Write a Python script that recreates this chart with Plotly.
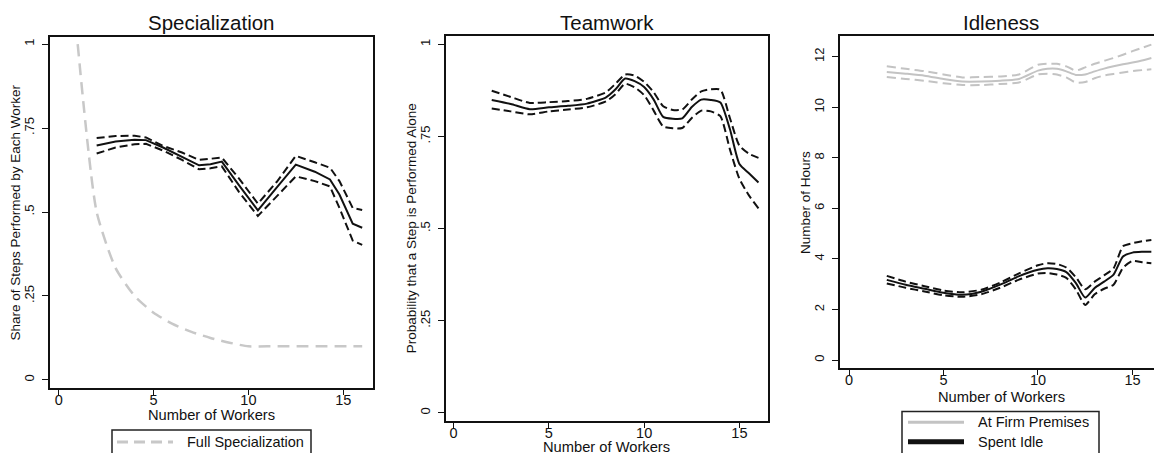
import plotly.graph_objects as go

W, H = 1154, 453
FONT = "Liberation Sans, Arial, sans-serif"

# ---------------- data ----------------
# Panel 1: Specialization
spec_x = [2, 3, 4, 4.6, 5.5, 6.5, 7.4, 8, 8.6, 9.5, 10.5, 11.5, 12.5, 13.5, 14.3, 14.8, 15.5, 16]
spec_mean = [.698, .710, .715, .714, .692, .665, .639, .642, .650, .580, .505, .573, .641, .620, .597, .552, .465, .453]
spec_hi = [.720, .726, .727, .722, .697, .677, .655, .658, .662, .600, .525, .590, .667, .648, .632, .592, .512, .506]
spec_lo = [.674, .692, .702, .703, .683, .655, .627, .630, .636, .560, .488, .548, .606, .592, .576, .512, .415, .402]
full_x = [1, 2, 3, 4, 5, 6, 7, 8, 9, 10, 11, 12, 13, 14, 15, 16]
full_y = [1, .5, .333, .25, .2, .167, .143, .125, .111, .1, .1, .1, .1, .1, .1, .1]

# Panel 2: Teamwork
team_x = [2, 3, 4, 5, 6, 7, 8, 8.5, 9, 9.5, 10, 10.5, 11, 11.5, 12, 12.5, 13, 13.5, 14, 14.5, 15, 15.5, 16]
team_mean = [.849, .838, .824, .829, .833, .839, .856, .878, .907, .900, .884, .850, .803, .798, .799, .830, .850, .849, .842, .770, .675, .650, .625]
team_hi = [.874, .857, .841, .843, .846, .852, .870, .893, .918, .915, .898, .870, .832, .822, .823, .850, .872, .878, .877, .800, .725, .703, .692]
team_lo = [.826, .818, .810, .818, .823, .829, .845, .865, .893, .883, .862, .820, .777, .772, .773, .800, .820, .818, .805, .715, .635, .590, .555]

# Panel 3: Idleness
idle_x = [2, 3, 4, 5, 6, 7, 8, 9, 10, 10.5, 11, 11.5, 12, 12.5, 13, 13.5, 14, 14.5, 15, 15.5, 16]
prem_mean = [11.40, 11.33, 11.25, 11.12, 11.02, 11.02, 11.05, 11.12, 11.45, 11.52, 11.52, 11.42, 11.28, 11.30, 11.42, 11.53, 11.62, 11.70, 11.77, 11.85, 11.95]
prem_hi = [11.62, 11.52, 11.43, 11.30, 11.18, 11.20, 11.22, 11.30, 11.68, 11.72, 11.72, 11.62, 11.45, 11.58, 11.72, 11.84, 11.95, 12.08, 12.22, 12.35, 12.48]
prem_lo = [11.20, 11.12, 11.05, 10.95, 10.88, 10.88, 10.92, 10.98, 11.30, 11.33, 11.30, 11.18, 10.98, 11.00, 11.15, 11.26, 11.32, 11.38, 11.43, 11.47, 11.50]
idle_mean = [3.17, 2.98, 2.82, 2.66, 2.58, 2.70, 2.98, 3.32, 3.57, 3.63, 3.60, 3.48, 3.05, 2.47, 2.85, 3.10, 3.38, 4.10, 4.25, 4.28, 4.28]
idle_hi = [3.33, 3.10, 2.92, 2.75, 2.68, 2.78, 3.06, 3.43, 3.75, 3.83, 3.80, 3.66, 3.28, 2.80, 3.10, 3.35, 3.63, 4.50, 4.62, 4.70, 4.75]
idle_lo = [3.03, 2.86, 2.71, 2.56, 2.50, 2.60, 2.86, 3.18, 3.42, 3.44, 3.38, 3.25, 2.80, 2.18, 2.60, 2.82, 2.98, 3.65, 3.92, 3.87, 3.83]

x_ticks = [0, 5, 10, 15]
share_ticks = [0, .25, .5, .75, 1]
share_labels = ["0", ".25", ".5", ".75", "1"]
hour_ticks = [0, 2, 4, 6, 8, 10, 12]

titles = ["Specialization", "Teamwork", "Idleness"]
ytitles = ["Share of Steps Performed by Each Worker",
           "Probability that a Step is Performed Alone",
           "Number of Hours"]
xtitle = "Number of Workers"
legend1 = ["Full Specialization"]
legend3 = ["At Firm Premises", "Spent Idle"]

# ---------------- figure ----------------
BLACK = "#111111"
GRAY = "#c3c3c3"
GRAY2 = "#c8c8c8"
CI_DASH = "8px,4px"

fig = go.Figure()


def line(x, y, ax, color, width, dash=None, shape="linear"):
    fig.add_trace(go.Scatter(
        x=x, y=y, mode="lines", xaxis="x" + ax, yaxis="y" + ax,
        line=dict(color=color, width=width, dash=dash, shape=shape, smoothing=0.6),
        showlegend=False, hoverinfo="skip"))


# panel 1
line(full_x, full_y, "", GRAY2, 2.5, "12px,7px", "spline")
line(spec_x, spec_hi, "", BLACK, 2, CI_DASH)
line(spec_x, spec_lo, "", BLACK, 2, CI_DASH)
line(spec_x, spec_mean, "", BLACK, 2)
# panel 2
line(team_x, team_hi, "2", BLACK, 2, CI_DASH, "spline")
line(team_x, team_lo, "2", BLACK, 2, CI_DASH, "spline")
line(team_x, team_mean, "2", BLACK, 2, None, "spline")
# panel 3
line(idle_x, prem_hi, "3", GRAY, 2, "9px,5px", "spline")
line(idle_x, prem_lo, "3", GRAY, 2, "9px,5px", "spline")
line(idle_x, prem_mean, "3", GRAY, 2, None, "spline")
line(idle_x, idle_hi, "3", BLACK, 2, CI_DASH, "spline")
line(idle_x, idle_lo, "3", BLACK, 2, CI_DASH, "spline")
line(idle_x, idle_mean, "3", BLACK, 2, None, "spline")


def px(v):
    return v / W


def py(v):
    return 1 - v / H


def xaxis(left, right, rng, mirror=True):
    return dict(domain=[px(left), px(right)], range=rng, tickvals=x_ticks,
                ticks="outside", ticklen=5, tickwidth=1, tickcolor=BLACK,
                showline=True, linecolor=BLACK, linewidth=1.5, mirror=mirror,
                showgrid=False, zeroline=False, ticklabelstandoff=-7,
                tickfont=dict(family=FONT, size=14.5, color=BLACK))


def yaxis(top, bottom, rng, tv, tt, anchor, mirror=True):
    return dict(domain=[py(bottom), py(top)], range=rng, tickvals=tv, ticktext=tt,
                ticks="outside", ticklen=6, tickwidth=1, tickcolor=BLACK, tickangle=-90,
                showline=True, linecolor=BLACK, linewidth=1.5, mirror=mirror,
                showgrid=False, zeroline=False, anchor=anchor, ticklabelstandoff=3,
                tickfont=dict(family=FONT, size=13, color=BLACK))


hour_labels = [str(t) for t in hour_ticks]

layout = dict(
    width=W, height=H, margin=dict(l=0, r=0, t=0, b=0, autoexpand=False),
    paper_bgcolor="white", plot_bgcolor="white", showlegend=False,
    xaxis=dict(xaxis(50, 373, [-0.46, 16.57]), anchor="y"),
    yaxis=yaxis(37, 388, [-0.024, 1.021], share_ticks, share_labels, "x"),
    xaxis2=dict(xaxis(446, 768, [-0.40, 16.50]), anchor="y2"),
    yaxis2=yaxis(36, 421, [-0.022, 1.0225], share_ticks, share_labels, "x2"),
    xaxis3=dict(xaxis(840, 1154, [-0.476, 16.14]), anchor="y3"),
    yaxis3=yaxis(36, 368, [-0.316, 12.82], hour_ticks, hour_labels, "x3", mirror=False),
)
fig.update_layout(**layout)

# panel titles
for t, cx in zip(titles, [211.5, 606.7, 1001]):
    fig.add_annotation(text=t, x=px(cx), y=py(22), xref="paper", yref="paper",
                       showarrow=False, xanchor="center", yanchor="middle",
                       font=dict(family=FONT, size=20.5, color=BLACK))

# x axis titles
for cx, cy in [(211.5, 414.5), (606.7, 447), (1001, 396.5)]:
    fig.add_annotation(text=xtitle, x=px(cx), y=py(cy), xref="paper", yref="paper",
                       showarrow=False, xanchor="center", yanchor="middle",
                       font=dict(family=FONT, size=14.7, color=BLACK))

# y axis titles
for t, cx, cy in zip(ytitles, [15, 411.7, 805], [212.5, 228.5, 203]):
    fig.add_annotation(text=t, x=px(cx), y=py(cy), xref="paper", yref="paper",
                       showarrow=False, xanchor="center", yanchor="middle", textangle=-90,
                       font=dict(family=FONT, size=13.5, color=BLACK))

# legend 1
fig.add_shape(type="rect", xref="paper", yref="paper", x0=px(112), x1=px(311), y0=py(480), y1=py(430),
              line=dict(color="#222222", width=1.5), fillcolor="white")
fig.add_shape(type="line", xref="paper", yref="paper", x0=px(117), x1=px(173), y0=py(442), y1=py(442),
              line=dict(color=GRAY2, width=3, dash="11px,6px"))
fig.add_annotation(text=legend1[0], x=px(185), y=py(442), xref="paper", yref="paper",
                   showarrow=False, xanchor="left", yanchor="middle",
                   font=dict(family=FONT, size=14.5, color=BLACK))

# legend 3
fig.add_shape(type="rect", xref="paper", yref="paper", x0=px(902), x1=px(1099), y0=py(480), y1=py(411.5),
              line=dict(color="#222222", width=1.5), fillcolor="white")
fig.add_shape(type="line", xref="paper", yref="paper", x0=px(908), x1=px(964), y0=py(422.3), y1=py(422.3),
              line=dict(color=GRAY, width=3))
fig.add_shape(type="line", xref="paper", yref="paper", x0=px(908), x1=px(964), y0=py(441.7), y1=py(441.7),
              line=dict(color=BLACK, width=5))
for t, yy in zip(legend3, [422.3, 441.7]):
    fig.add_annotation(text=t, x=px(976), y=py(yy), xref="paper", yref="paper",
                       showarrow=False, xanchor="left", yanchor="middle",
                       font=dict(family=FONT, size=14.5, color=BLACK))

fig.write_html("out.html", config={"displayModeBar": False},
               post_script="document.body.style.margin='0';document.body.style.overflow='hidden';")
